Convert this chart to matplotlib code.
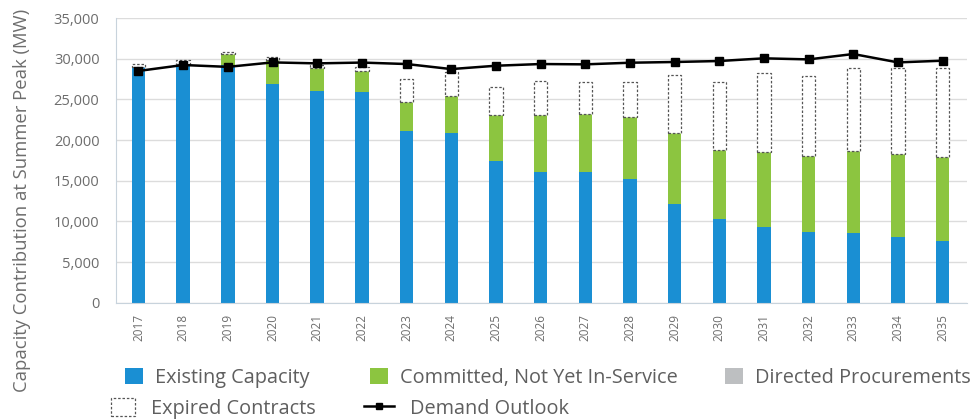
import matplotlib
matplotlib.use("Agg")
import matplotlib.pyplot as plt
import numpy as np
from matplotlib.patches import Patch
from matplotlib.lines import Line2D
from matplotlib.font_manager import FontProperties

years = [str(y) for y in range(2017, 2036)]
existing = [29000, 29400, 29200, 26850, 26030, 25950, 21160, 20830, 17440, 16130,
            16050, 15230, 12160, 10280, 9370, 8680, 8560, 8070, 7650]
committed = [0, 0, 1350, 2990, 2800, 2580, 3570, 4630, 5600, 6960,
             7120, 7650, 8680, 8510, 9130, 9370, 10150, 10230, 10320]
directed = [0] * 19
expired = [300, 500, 300, 330, 400, 490, 2770, 2950, 3450, 4170,
           4010, 4300, 7160, 8390, 9700, 9870, 10190, 10600, 10850]
demand = [28500, 29230, 29000, 29550, 29430, 29530, 29350, 28730, 29140, 29350,
          29310, 29510, 29600, 29720, 30050, 29920, 30580, 29550, 29760]
yticks = [0, 5000, 10000, 15000, 20000, 25000, 30000, 35000]

c_blue = "#1a8fd3"
c_green = "#8cc540"
c_gray = "#bdbfc1"
c_text = "#6d6d6d"

plt.rcParams['font.family'] = ['Open Sans', 'DejaVu Sans']
fig = plt.figure(figsize=(9.76, 4.2), dpi=100)
ax = fig.add_axes([0.119, 0.279, 0.872, 0.678])

x = np.arange(len(years))
w = 0.3
ex = np.array(existing)
cm = np.array(committed)
dr = np.array(directed)
ep = np.array(expired)
ax.bar(x, ex, w, color=c_blue, zorder=2)
ax.bar(x, cm, w, bottom=ex, color=c_green, zorder=2)
ax.bar(x, dr, w, bottom=ex + cm, color=c_gray, zorder=2)
ax.bar(x, ep, w, bottom=ex + cm + dr, facecolor="white", edgecolor="#555555",
       linestyle=(0, (2, 1.5)), linewidth=0.9, zorder=2)
ax.plot(x, demand, color="black", linewidth=1.8, marker="s", markersize=5.5, zorder=3)

ax.set_xlim(-0.5, 18.55)
ax.set_ylim(0, 35000)
ax.set_yticks(yticks)
ax.set_yticklabels([f"{v:,}" for v in yticks])
ax.set_xticks(x)
ax.set_xticklabels(years, rotation=90)
ax.tick_params(axis="both", length=0, colors=c_text)
ax.tick_params(axis="y", pad=12, labelsize=10.5)
ax.tick_params(axis="x", pad=8, labelsize=8.5)
ax.grid(axis="y", color="#dcdcdc", linewidth=1, zorder=0)
for s in ["top", "right"]:
    ax.spines[s].set_visible(False)
ax.spines["left"].set_color("#c8d3dc")
ax.spines["bottom"].set_color("#c8d3dc")
ax.set_ylabel("Capacity Contribution at Summer Peak (MW)", color=c_text, fontsize=13.3)
ax.yaxis.set_label_coords(-0.1, 0.36)

fp = FontProperties(family=['Open Sans', 'DejaVu Sans'], size=14.3)
handles1 = [Patch(facecolor=c_blue), Patch(facecolor=c_green), Patch(facecolor=c_gray)]
labels1 = ["Existing Capacity", "Committed, Not Yet In-Service", "Directed Procurements"]
handles2 = [Patch(facecolor="white", edgecolor="#555555", linestyle=(0, (2, 1.5)), linewidth=0.9),
            Line2D([], [], color="black", linewidth=1.8, marker="s", markersize=5)]
labels2 = ["Expired Contracts", "Demand Outlook"]
xs = [0.128, 0.379, 0.743]
for h, l, xx in zip(handles1, labels1, xs):
    leg = fig.legend([h], [l], loc="center left", bbox_to_anchor=(xx, 0.1), frameon=False,
                     prop=fp, handlelength=0.9, handleheight=0.9, handletextpad=0.6,
                     borderaxespad=0, borderpad=0)
    for t in leg.get_texts():
        t.set_color("#5f5f5f")
for h, l, xx in zip(handles2, labels2, [0.114, 0.373]):
    leg = fig.legend([h], [l], loc="center left", bbox_to_anchor=(xx, 0.028), frameon=False,
                     prop=fp, handlelength=1.2 if l == "Expired Contracts" else 1.5,
                     handleheight=1.0, handletextpad=0.8, borderaxespad=0, borderpad=0)
    for t in leg.get_texts():
        t.set_color("#5f5f5f")

fig.savefig("out.png", dpi=100)
